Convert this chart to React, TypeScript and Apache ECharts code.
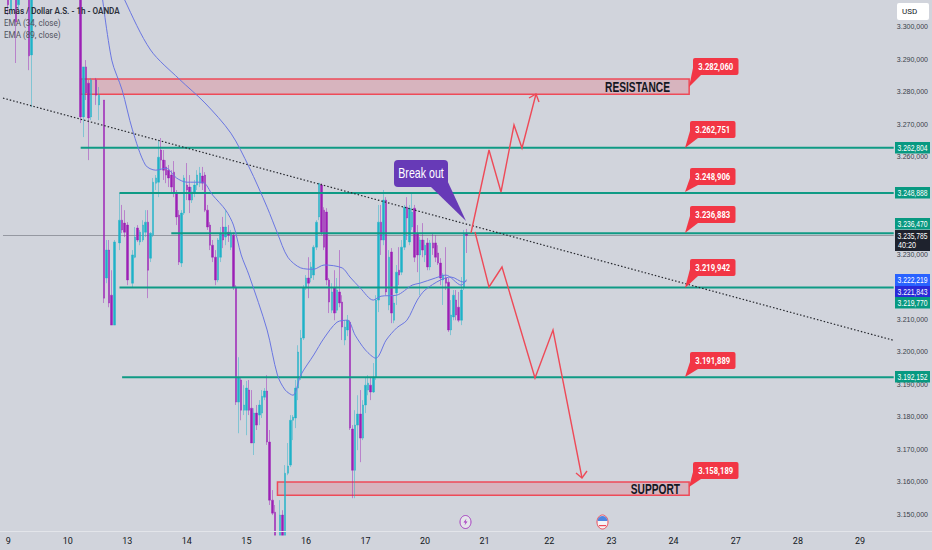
import React, { useEffect, useRef } from "react";
import * as echarts from "echarts";

const dayLabels: [number, string][] = [[2, "9"], [25, "10"], [48, "13"], [71, "14"], [94, "15"], [117, "16"], [140, "17"], [163, "20"], [186, "21"], [211, "22"], [235, "23"], [259, "24"], [283, "27"], [307, "28"], [331, "29"]];
const barCount = 345;
const priceTicks = [3.15, 3.16, 3.17, 3.18, 3.19, 3.2, 3.21, 3.23, 3.25, 3.26, 3.27, 3.28, 3.29, 3.3];

// [bar index, open, close, low, high]
const candlesFirstWeek = [
  [2, 3.3114, 3.3068, 3.3037, 3.32], [3, 3.3052, 3.3114, 3.3037, 3.32], [5, 3.3114, 3.3015, 3.2889, 3.32], [6, 3.3068, 3.3145, 3.3052, 3.32],
  [10, 3.3145, 3.2911, 3.2867, 3.32], [11, 3.2914, 3.3145, 3.2753, 3.32],
  [30, 3.3145, 3.2723, 3.2704, 3.32], [31, 3.2723, 3.2877, 3.2661, 3.2877], [32, 3.2877, 3.2797, 3.2775, 3.2898], [33, 3.2827, 3.272, 3.259, 3.2837],
  [34, 3.2723, 3.2837, 3.2713, 3.2843], [36, 3.2837, 3.279, 3.276, 3.2843], [37, 3.276, 3.279, 3.2713, 3.2815], [39, 3.2775, 3.2165, 3.215, 3.2775],
  [40, 3.2227, 3.2313, 3.2211, 3.2344], [41, 3.2313, 3.215, 3.2137, 3.2344], [42, 3.2174, 3.2082, 3.2082, 3.2251], [43, 3.2082, 3.2338, 3.2082, 3.2344],
  [45, 3.2335, 3.2405, 3.2313, 3.2489], [46, 3.2405, 3.2375, 3.2365, 3.2452], [47, 3.2396, 3.2368, 3.2353, 3.2436], [48, 3.239, 3.2221, 3.2205, 3.2399],
  [50, 3.2211, 3.2298, 3.2199, 3.2313], [51, 3.2291, 3.2353, 3.2288, 3.2384], [52, 3.2381, 3.2344, 3.2338, 3.239], [53, 3.2338, 3.2368, 3.2328, 3.2375],
  [54, 3.2344, 3.239, 3.2338, 3.2405], [55, 3.2368, 3.2399, 3.2353, 3.2436], [56, 3.2399, 3.2251, 3.2165, 3.2436], [57, 3.2288, 3.2365, 3.2276, 3.2368],
  [58, 3.2359, 3.2522, 3.2353, 3.2535], [59, 3.2519, 3.2535, 3.2498, 3.2544], [60, 3.2522, 3.2599, 3.2476, 3.2652], [61, 3.2621, 3.259, 3.2559, 3.2658],
  [62, 3.259, 3.2559, 3.2529, 3.2621], [63, 3.2569, 3.2544, 3.2519, 3.259], [64, 3.2559, 3.2535, 3.2507, 3.2575], [65, 3.2544, 3.2507, 3.2492, 3.2559],
  [66, 3.2553, 3.2492, 3.2476, 3.2587], [67, 3.2489, 3.2415, 3.239, 3.2498], [68, 3.2421, 3.2276, 3.2267, 3.2436], [69, 3.2273, 3.2427, 3.2261, 3.2436],
  [70, 3.2427, 3.2535, 3.2421, 3.2544], [71, 3.2513, 3.2498, 3.2467, 3.2581], [72, 3.2507, 3.2467, 3.2427, 3.2544], [73, 3.2467, 3.2492, 3.2458, 3.2507],
  [74, 3.2489, 3.2513, 3.2476, 3.2529], [75, 3.2513, 3.2544, 3.2498, 3.2559], [76, 3.2519, 3.255, 3.2507, 3.2569], [77, 3.2541, 3.2519, 3.2498, 3.2569],
  [78, 3.2544, 3.2436, 3.243, 3.2553], [79, 3.2436, 3.2384, 3.2375, 3.2452], [80, 3.239, 3.2328, 3.2313, 3.2399], [81, 3.2328, 3.2291, 3.2276, 3.2344],
  [82, 3.2291, 3.2221, 3.2205, 3.2313], [83, 3.2221, 3.2344, 3.2214, 3.235], [84, 3.2291, 3.2365, 3.2276, 3.2384], [85, 3.2384, 3.2344, 3.2319, 3.2415],
  [86, 3.2353, 3.2384, 3.2328, 3.2436], [87, 3.2368, 3.2359, 3.2338, 3.239], [88, 3.2322, 3.2365, 3.2313, 3.2375], [89, 3.2359, 3.2199, 3.219, 3.2368],
];
const candlesSellOff = [
  [90, 3.2199, 3.1845, 3.1836, 3.2205], [91, 3.1845, 3.1919, 3.1749, 3.1983], [92, 3.1913, 3.182, 3.1789, 3.1922], [93, 3.182, 3.1836, 3.1805, 3.1897],
  [94, 3.182, 3.1888, 3.1743, 3.191], [95, 3.1882, 3.182, 3.1805, 3.1913], [96, 3.1826, 3.1719, 3.1719, 3.1882], [97, 3.1719, 3.1811, 3.1682, 3.1826],
  [98, 3.1811, 3.1774, 3.1759, 3.1836], [99, 3.1805, 3.1836, 3.1774, 3.1851], [100, 3.1811, 3.1863, 3.1796, 3.1882], [101, 3.186, 3.1879, 3.1851, 3.1888],
  [102, 3.1879, 3.1722, 3.1713, 3.1928], [103, 3.1722, 3.1543, 3.1528, 3.1759], [104, 3.1543, 3.1503, 3.1497, 3.1574], [105, 3.1506, 3.1435, 3.1435, 3.1528],
  [107, 3.1435, 3.1497, 3.1435, 3.1543], [108, 3.1497, 3.1435, 3.1435, 3.1512], [109, 3.1435, 3.1626, 3.1435, 3.1651], [110, 3.1626, 3.1648, 3.162, 3.1719],
  [111, 3.1651, 3.1789, 3.1645, 3.1805], [112, 3.1789, 3.1799, 3.1728, 3.1805], [113, 3.1796, 3.1888, 3.1765, 3.1913], [114, 3.1888, 3.1999, 3.1851, 3.202],
  [115, 3.1922, 3.2042, 3.1913, 3.2067], [116, 3.2042, 3.2196, 3.2036, 3.2205], [117, 3.2196, 3.2227, 3.219, 3.2236], [118, 3.2227, 3.2211, 3.2165, 3.2291],
  [119, 3.2227, 3.2261, 3.2214, 3.2276], [120, 3.2236, 3.2322, 3.2221, 3.2328], [121, 3.2322, 3.2399, 3.2313, 3.2405], [122, 3.2415, 3.2519, 3.2405, 3.2519],
  [123, 3.2513, 3.2368, 3.2359, 3.2519], [124, 3.2436, 3.2322, 3.2313, 3.2445], [125, 3.243, 3.2221, 3.2205, 3.2442], [126, 3.2221, 3.2153, 3.2119, 3.2227],
  [127, 3.2128, 3.2184, 3.2119, 3.2211], [128, 3.2196, 3.2119, 3.2097, 3.2251], [129, 3.2128, 3.219, 3.2119, 3.2227], [130, 3.2184, 3.215, 3.2137, 3.2313],
  [131, 3.2153, 3.2076, 3.2036, 3.2174], [132, 3.2036, 3.2076, 3.202, 3.2097], [133, 3.2067, 3.2097, 3.2048, 3.2113], [134, 3.2091, 3.1765, 3.1759, 3.2097],
];
const candlesRebound = [
  [135, 3.1762, 3.1635, 3.1549, 3.1774], [136, 3.1635, 3.1774, 3.1549, 3.182], [137, 3.1774, 3.1808, 3.1697, 3.1866], [138, 3.1808, 3.1734, 3.166, 3.1882],
  [139, 3.1734, 3.1836, 3.1728, 3.1851], [140, 3.1836, 3.1897, 3.1811, 3.1919], [141, 3.1882, 3.1903, 3.1866, 3.1928], [142, 3.1897, 3.1876, 3.1851, 3.1922],
  [143, 3.1876, 3.1922, 3.1873, 3.1965], [144, 3.1922, 3.2159, 3.1913, 3.2174], [145, 3.2159, 3.2399, 3.2122, 3.2452], [146, 3.2399, 3.2344, 3.2298, 3.2452],
  [147, 3.2344, 3.2467, 3.2328, 3.2498], [148, 3.2467, 3.2184, 3.2174, 3.2476], [149, 3.2144, 3.2291, 3.2128, 3.2313], [150, 3.2307, 3.2119, 3.2088, 3.2319],
  [151, 3.2097, 3.215, 3.2088, 3.2174], [152, 3.2181, 3.2245, 3.2144, 3.2267], [153, 3.2251, 3.2236, 3.2205, 3.2322], [154, 3.2245, 3.2322, 3.2236, 3.2344],
  [155, 3.2322, 3.2445, 3.2313, 3.2452], [156, 3.2445, 3.2412, 3.2344, 3.2476], [157, 3.2338, 3.2442, 3.2328, 3.2452], [158, 3.2384, 3.243, 3.2375, 3.2489],
  [159, 3.2442, 3.2291, 3.2276, 3.2452], [160, 3.2365, 3.2298, 3.2245, 3.239], [161, 3.2298, 3.2344, 3.2174, 3.2353], [162, 3.2344, 3.2313, 3.2291, 3.2396],
  [163, 3.2298, 3.2328, 3.2276, 3.2344], [164, 3.2335, 3.2261, 3.2251, 3.235], [165, 3.2261, 3.2335, 3.2251, 3.2344], [166, 3.2335, 3.2319, 3.2298, 3.2365],
  [167, 3.2335, 3.2291, 3.2276, 3.2359], [168, 3.2304, 3.2273, 3.2267, 3.2328], [169, 3.2273, 3.2227, 3.2205, 3.2288], [170, 3.2221, 3.2236, 3.2144, 3.2242],
  [171, 3.2227, 3.2211, 3.219, 3.2322], [172, 3.2214, 3.2067, 3.2061, 3.2227], [173, 3.2067, 3.2113, 3.2051, 3.2159], [174, 3.2107, 3.2174, 3.2097, 3.219],
  [175, 3.2159, 3.2113, 3.2097, 3.219], [176, 3.2137, 3.2097, 3.2091, 3.2184], [177, 3.2097, 3.219, 3.2082, 3.223], [178, 3.2199, 3.2365, 3.219, 3.2375],
  [179, 3.2365, 3.235785, 3.2304, 3.2378],
];

const emaFast = [[38, 3.3114], [42, 3.2898], [46, 3.2806], [50, 3.2683], [55, 3.2575], [59, 3.2559], [63, 3.2565], [67, 3.2535], [71, 3.2522], [77, 3.2522], [81, 3.2482], [86, 3.2436], [89, 3.239], [92, 3.2298], [95, 3.2236], [102, 3.2067], [106, 3.1928], [109, 3.1882], [112, 3.1866], [115, 3.1928], [120, 3.199], [124, 3.2042], [129, 3.2091], [133, 3.2097], [136, 3.2051], [140, 3.2005], [144, 3.198], [148, 3.2036], [152, 3.2073], [156, 3.2097], [160, 3.2159], [163, 3.219], [169, 3.2221], [173, 3.223], [178, 3.2214], [179, 3.2218]];
const emaSlow = [[46, 3.3114], [47, 3.3083], [57, 3.2929], [68, 3.284], [78, 3.2766], [88, 3.2673], [95, 3.2569], [102, 3.2445], [106, 3.2365], [110, 3.2291], [115, 3.2258], [120, 3.2254], [124, 3.2267], [131, 3.2258], [134, 3.223], [138, 3.2196], [143, 3.2159], [146, 3.2171], [152, 3.2174], [158, 3.2205], [161, 3.2211], [167, 3.2227], [171, 3.2236], [177, 3.2205], [179, 3.2222]];

const trendLine = [[0, 3.2781], [344, 3.2035]];
const lastPrice = 3.235785;
const levelPrices = [3.262804, 3.248888, 3.23647, 3.21977, 3.192152];
const levelStarts = [30, 45, 65, 45, 46];
const zones = [
  { from: 30, to: 265, low: 3.2793, high: 3.284 },
  { from: 106, to: 265, low: 3.1558, high: 3.1599 },
];
const zoneNames = ["RESISTANCE", "SUPPORT"];
const zoneNameSpots = [[670, 79], [680, 481]];

const calloutTexts = ["3.282,060", "3.262,751", "3.248,906", "3.236,883", "3.219,942", "3.191,889", "3.158,189"];
const calloutBoxes = [[693, 58, 689, 87], [690, 121, 685, 148], [690, 168, 685, 192], [690, 206, 685, 233], [690, 259, 685, 288], [690, 352, 685, 377], [693, 462, 689, 487]];
const axisTagTexts = ["3.262,804", "3.248,888", "3.236,470", "3.222,219", "3.221,843", "3.219,770", "3.192,152"];
const axisTagTops = [142, 187, 218, 274, 286, 297, 371];
const axisTagColors = ["#089981", "#089981", "#089981", "#2962ff", "#2a2ad8", "#089981", "#089981"];

const BG = "#d1d4dc";
const RED = "#f23645";
const SANS = "'Liberation Sans', sans-serif";
const UI = "Roboto, sans-serif";

function buildGraphic() {
  const g: any[] = [];
  const z = 100;
  g.push({ type: "line", z, shape: { x1: 0, y1: 531.5, x2: 932, y2: 531.5 }, style: { stroke: "#e3e5ea", lineWidth: 1 } });
  // header
  g.push({ type: "text", z, x: 4, y: 6.5, style: { text: "Emàs / Dollar A.S. - 1h - OANDA", font: `600 9px ${UI}`, fill: "#2a2e39" }, scaleX: 0.9 });
  g.push({ type: "text", z, x: 4, y: 18.5, style: { text: "EMA (34, close)", font: `400 9px ${UI}`, fill: "#50535e" }, scaleX: 0.9 });
  g.push({ type: "text", z, x: 4, y: 30, style: { text: "EMA (89, close)", font: `400 9px ${UI}`, fill: "#50535e" }, scaleX: 0.9 });
  // currency
  g.push({ type: "rect", z, shape: { x: 897, y: 3, width: 32, height: 17, r: 2 }, style: { fill: "#ffffff" } });
  g.push({ type: "text", z: z + 1, x: 902, y: 7, style: { text: "USD", font: `400 8px ${UI}`, fill: "#131722" } });
  // axis tags
  axisTagTexts.forEach((t, i) => {
    g.push({ type: "rect", z, shape: { x: 895, y: axisTagTops[i], width: 35, height: i === 3 ? 12 : 11.5 }, style: { fill: axisTagColors[i] } });
    g.push({ type: "text", z: z + 1, x: 912.5, y: axisTagTops[i] + 1.5, scaleX: 0.75, style: { text: t, font: `400 9px ${SANS}`, fill: "#ffffff", align: "center" } });
  });
  g.push({ type: "rect", z, shape: { x: 895, y: 230, width: 35, height: 21 }, style: { fill: "#1e222d" } });
  g.push({ type: "text", z: z + 1, x: 912.5, y: 231.5, scaleX: 0.75, style: { text: "3.235,785", font: `400 9px ${SANS}`, fill: "#ffffff", align: "center" } });
  g.push({ type: "text", z: z + 1, x: 898, y: 241, scaleX: 0.8, style: { text: "40:20", font: `400 9px ${SANS}`, fill: "#ffffff" } });
  // zone names
  zoneNames.forEach((t, i) => {
    g.push({ type: "text", z: 60, x: zoneNameSpots[i][0], y: zoneNameSpots[i][1], scaleX: 0.68, style: { text: t, font: `700 15px ${SANS}`, fill: "#131722", align: "right" } });
  });
  // scenario arrows
  const stroke = { stroke: "#ee4a58", lineWidth: 1.4, fill: "none" };
  g.push({ type: "polyline", z: 50, shape: { points: [[471, 233], [489, 150], [501, 192], [514, 125], [522, 148], [536, 94]] }, style: stroke });
  g.push({ type: "polyline", z: 50, shape: { points: [[529, 98], [536, 94], [539, 102]] }, style: stroke });
  g.push({ type: "polyline", z: 50, shape: { points: [[475, 232], [489, 287], [502, 267], [535, 378], [553, 330], [582, 478]] }, style: stroke });
  g.push({ type: "polyline", z: 50, shape: { points: [[576, 473], [582, 478], [587, 471]] }, style: stroke });
  // red callouts
  calloutTexts.forEach((t, i) => {
    const [x, y, tx, ty] = calloutBoxes[i];
    g.push({ type: "polygon", z, shape: { points: [[x, y + 10], [x + 8, y + 17], [tx, ty]] }, style: { fill: RED } });
    g.push({ type: "rect", z, shape: { x, y, width: 45.5, height: 17, r: 2 }, style: { fill: RED } });
    g.push({ type: "text", z: z + 1, x: x + 22.75, y: y + 4, scaleX: 0.85, style: { text: t, font: `700 9px ${UI}`, fill: "#ffffff", align: "center" } });
  });
  // break-out note
  g.push({ type: "polygon", z, shape: { points: [[430, 186], [447, 180], [466, 221]] }, style: { fill: "#673ab7" } });
  g.push({ type: "rect", z, shape: { x: 394, y: 160, width: 54, height: 27, r: 4 }, style: { fill: "#673ab7" } });
  g.push({ type: "text", z: z + 1, x: 421, y: 166, scaleX: 0.76, style: { text: "Break out", font: `400 14px ${SANS}`, fill: "#ffffff", align: "center" } });
  // event icons
  g.push({ type: "ellipse", z, shape: { cx: 465.5, cy: 522, rx: 5.5, ry: 6.5 }, style: { fill: "#e4e5ea", stroke: "#a63cc0", lineWidth: 1 } });
  g.push({ type: "polygon", z: z + 1, shape: { points: [[466.5, 518.5], [463.5, 522.5], [465.5, 522.5], [464.5, 525.5], [467.5, 521.5], [465.5, 521.5]] }, style: { fill: "#a63cc0" } });
  g.push({ type: "ellipse", z, shape: { cx: 602.5, cy: 522, rx: 5.5, ry: 7 }, style: { fill: "#f4f4f6", stroke: "#ee4a58", lineWidth: 1 } });
  g.push({ type: "sector", z: z + 1, shape: { cx: 602.5, cy: 521, r0: 0, r: 5, startAngle: Math.PI, endAngle: 2 * Math.PI }, style: { fill: "#4f86e0" } });
  g.push({ type: "rect", z: z + 1, shape: { x: 599, y: 525, width: 7, height: 1.2 }, style: { fill: "#ee4a58" } });
  return g;
}

export default function App() {
  const ref = useRef<HTMLDivElement>(null);
  useEffect(() => {
    const chart = echarts.init(ref.current!, undefined, { renderer: "svg" });
    const labels = Array.from({ length: barCount }, () => "");
    dayLabels.forEach(([i, t]) => (labels[i] = t));
    const candles = [...candlesFirstWeek, ...candlesSellOff, ...candlesRebound];
    const levelSeries = levelPrices.map((p, i) => ({
      type: "line" as const,
      name: "level " + p,
      data: [[levelStarts[i], p], [barCount - 1, p]],
      showSymbol: false,
      silent: true,
      z: 3,
      lineStyle: { color: "#0f9a85", width: 2 },
    }));
    chart.setOption({
      animation: false,
      backgroundColor: BG,
      grid: { left: 0, right: 37, top: 0, bottom: 19 },
      xAxis: {
        type: "category",
        data: labels,
        axisLine: { show: false },
        axisTick: { show: false },
        splitLine: { show: false },
        axisLabel: { interval: 0, color: "#131722", fontSize: 9, fontFamily: UI, margin: 5 },
      },
      yAxis: {
        type: "value",
        position: "right",
        min: 3.1448,
        max: 3.3083,
        scale: true,
        axisLine: { show: false },
        axisTick: { show: false },
        splitLine: { show: false },
        axisLabel: {
          customValues: priceTicks,
          align: "right",
          margin: 33,
          color: "#3a3e4a",
          fontSize: 7,
          fontFamily: SANS,
          padding: [0, 0, 3, 0],
          formatter: (v: number) => {
            const s = Number(v).toFixed(6);
            return s.slice(0, 5) + "," + s.slice(5);
          },
        },
      },
      series: [
        {
          type: "line",
          name: "zones",
          data: [],
          z: 1,
          silent: true,
          markArea: {
            silent: true,
            itemStyle: { color: "rgba(242,54,69,0.2)", borderColor: "#ee4a58", borderWidth: 1.5 },
            data: zones.map((zn) => [
              { xAxis: zn.from, yAxis: zn.high },
              { xAxis: zn.to, yAxis: zn.low },
            ]),
          },
        },
        { type: "line", name: "last price", data: [[0, lastPrice], [barCount - 1, lastPrice]], showSymbol: false, silent: true, z: 1, lineStyle: { color: "#9598a1", width: 1 } },
        {
          type: "candlestick",
          name: "candles",
          data: candles,
          encode: { x: 0, y: [1, 2, 3, 4] },
          barWidth: 2,
          z: 2,
          silent: true,
          itemStyle: {
            color: "#1eb2c8",
            color0: "#9c1fb5",
            borderColor: "rgba(30,178,200,0.45)",
            borderColor0: "rgba(156,31,181,0.45)",
            borderWidth: 1,
          },
        },
        ...levelSeries,
        { type: "line", name: "EMA (34, close)", data: emaFast, smooth: 0.3, showSymbol: false, silent: true, z: 4, lineStyle: { color: "#6a76e2", width: 1 } },
        { type: "line", name: "EMA (89, close)", data: emaSlow, smooth: 0.3, showSymbol: false, silent: true, z: 4, lineStyle: { color: "#6a76e2", width: 1 } },
        { type: "line", name: "trend", data: trendLine, showSymbol: false, silent: true, z: 5, lineStyle: { color: "#26282e", width: 1.2, type: [1.5, 2] } },
      ],
      graphic: buildGraphic(),
    });
    return () => chart.dispose();
  }, []);
  return <div ref={ref} style={{ position: "fixed", left: 0, top: 0, width: 932, height: 550 }} />;
}
